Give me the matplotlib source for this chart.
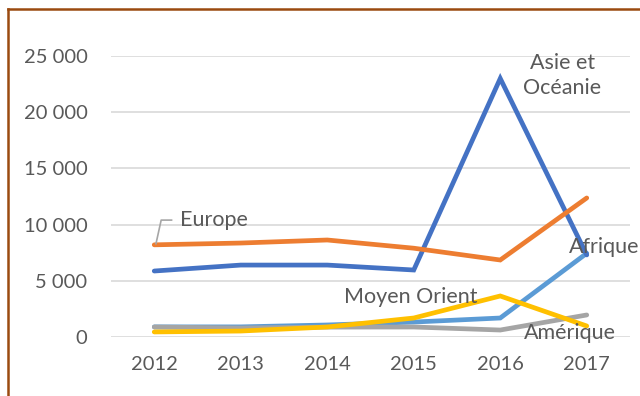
import matplotlib.pyplot as plt
from matplotlib.lines import Line2D

# yearly values per region
years = ['2012', '2013', '2014', '2015', '2016', '2017']
afrique = [900, 900, 1070, 1330, 1690, 7450]
amerique = [890, 800, 880, 890, 620, 1960]
asie = [5870, 6400, 6400, 5960, 23000, 7300]
europe = [8200, 8360, 8630, 7900, 6850, 12370]
moyen_orient = [450, 530, 890, 1690, 3650, 980]

plt.rcParams['font.family'] = ['Lato', 'DejaVu Sans']
text_col = '#595959'

fig = plt.figure(figsize=(6.4, 3.96), dpi=100)
ax = fig.add_axes([111 / 640, 1 - 337 / 396, 519 / 640, 281 / 396])

x = range(len(years))
lw = 3.4
ax.plot(x, afrique, color='#5B9BD5', lw=lw, solid_capstyle='round', solid_joinstyle='miter')
ax.plot(x, amerique, color='#A5A5A5', lw=lw, solid_capstyle='round', solid_joinstyle='miter')
ax.plot(x, asie, color='#4472C4', lw=lw, solid_capstyle='round', solid_joinstyle='miter')
ax.plot(x, europe, color='#ED7D31', lw=lw, solid_capstyle='round', solid_joinstyle='miter')
ax.plot(x, moyen_orient, color='#FFC000', lw=lw, solid_capstyle='round', solid_joinstyle='miter')

ax.set_xlim(-0.5, 5.5)
ax.set_ylim(0, 25000)
ax.set_xticks(list(x))
ax.set_xticklabels(years)
ax.set_yticks(range(0, 25001, 5000))
ax.set_yticklabels([f'{v:,}'.replace(',', ' ') for v in range(0, 25001, 5000)])
ax.tick_params(length=0, labelsize=14.5, labelcolor=text_col)
ax.tick_params(axis='y', pad=17)
ax.tick_params(axis='x', pad=14)
for s in ax.spines.values():
    s.set_visible(False)
ax.grid(axis='y', color='#D9D9D9', lw=1.2)
ax.set_axisbelow(True)

# series labels
lab = dict(fontsize=15.5, color=text_col, clip_on=False)
ax.text(4.72, 23300, 'Asie et\nOcéanie', ha='center', va='center', linespacing=1.3, **lab)
ax.text(0.3, 10400, 'Europe', ha='left', va='center', **lab)
ax.text(5.2, 8000, 'Afrique', ha='center', va='center', **lab)
ax.text(2.96, 3550, 'Moyen Orient', ha='center', va='center', **lab)
ax.text(4.8, 330, 'Amérique', ha='center', va='center', **lab)
ax.plot([0.02, 0.08, 0.2], [8300, 10400, 10400], color='#A6A6A6', lw=1.2)

# frame lines along top and left edge
brown = '#9A4A10'
fig.add_artist(Line2D([8 / 640, 1], [1 - 9 / 396] * 2, color=brown, lw=1.8))
fig.add_artist(Line2D([8 / 640] * 2, [0, 1 - 9 / 396], color=brown, lw=1.8))

fig.savefig('out.png', dpi=100)
